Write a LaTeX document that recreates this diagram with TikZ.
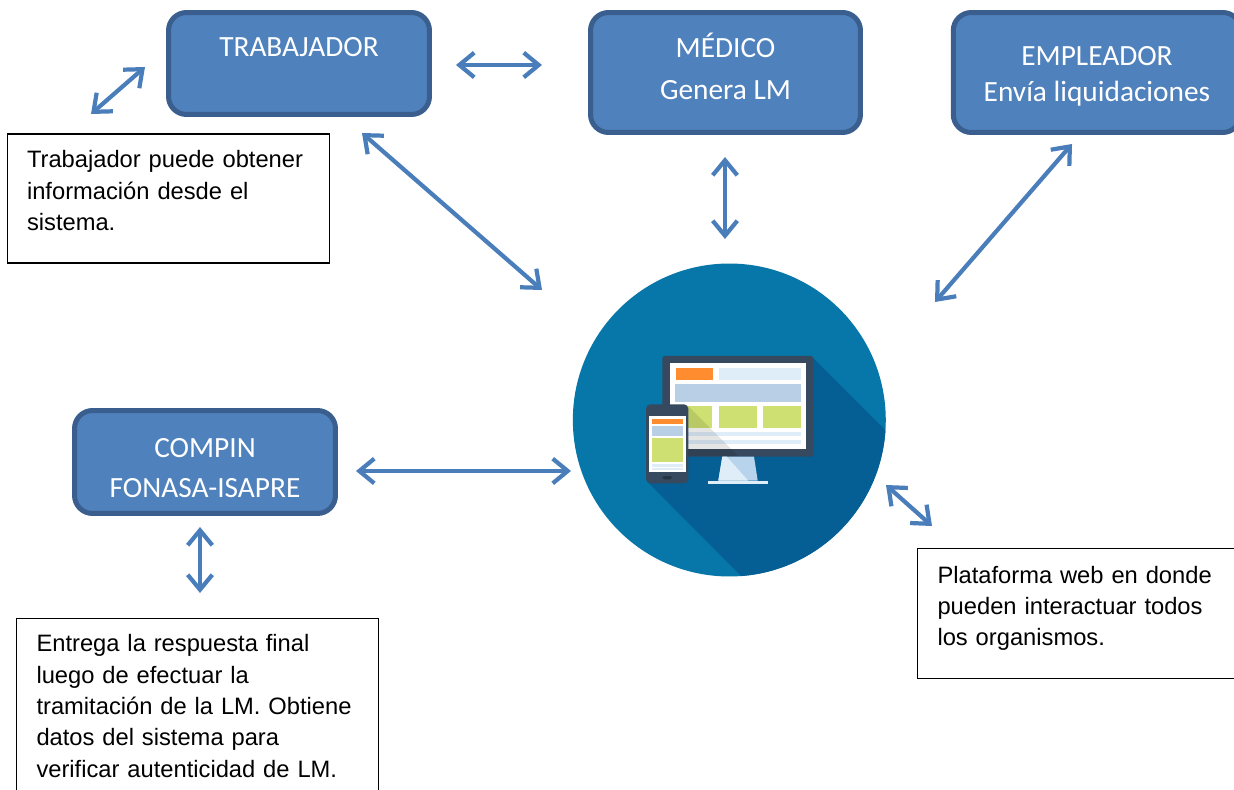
\documentclass[tikz,border=0pt]{standalone}
\usepackage{fontspec}
\setmainfont{Liberation Sans}
\newfontfamily\boxfont{Carlito}
\usetikzlibrary{arrows.meta}
\definecolor{lmblue}{HTML}{4F81BD}
\definecolor{lmborder}{HTML}{3A5F8E}
\definecolor{lmarrow}{HTML}{4A7EBB}
\definecolor{lmcircle}{HTML}{0776A8}
\definecolor{lmshadow}{HTML}{055E94}
\definecolor{lmdark}{HTML}{36495E}
\definecolor{lmorange}{HTML}{FF8C2E}
\definecolor{lmpale}{HTML}{DFEDF9}
\definecolor{lmsteel}{HTML}{B9CFE5}
\definecolor{lmstand}{HTML}{B7D4EC}
\definecolor{lmgreen}{HTML}{CFE072}
\tikzset{
  actorbox/.style={draw=lmborder, fill=lmblue, line width=0.1cm, rounded corners=0.36cm,
    text=white, align=center, font=\boxfont\fontsize{16.7}{18}\selectfont},
  infobox/.style={draw=black, line width=0.6pt, fill=white, align=left, inner xsep=0.4cm,
    font=\fontsize{13.5}{17.9}\selectfont},
  dblarrow/.style={draw=lmarrow, line width=2.4pt,
    {Straight Barb[length=8.5pt,width=14pt]}-{Straight Barb[length=8.5pt,width=14pt]}}
}
\begin{document}
\begin{tikzpicture}[x=0.02cm,y=-0.02cm]
\path[use as bounding box, clip] (0,0) rectangle (1234,790);
\fill[white] (0,0) rectangle (1234,790);

% Actors
\node[actorbox, minimum width=5.22cm, minimum height=2.04cm] (trabajador) at (299,63.5) {TRABAJADOR\\[0.7pt]~};
\node[actorbox, minimum width=5.4cm, minimum height=2.4cm, text depth=7pt] (medico) at (725.5,72.5) {MÉDICO\\[6.3pt]Genera LM};
\node[actorbox, minimum width=5.75cm, minimum height=2.4cm] (empleador) at (1097,72.5) {\rule{0pt}{15pt}EMPLEADOR\\[2.4pt]Envía liquidaciones};
\node[actorbox, minimum width=5.22cm, minimum height=2.06cm] (compin) at (205,462) {\rule{0pt}{17.7pt}COMPIN\\[4.7pt]FONASA-ISAPRE};

% Info boxes
\node[infobox, text width=5.66cm, minimum width=6.46cm, minimum height=2.58cm, text depth=44.5pt] (trabinfo) at (168.5,198.5)
  {Trabajador puede obtener\\información desde el\\sistema.};
\node[infobox, text width=6.44cm, minimum width=7.24cm, minimum height=3.5cm, anchor=north west, inner xsep=0.38cm] (compininfo) at (16,618)
  {Entrega la respuesta final\\luego de efectuar la\\tramitación de la LM. Obtiene\\datos del sistema para\\verificar autenticidad de LM.};
\node[infobox, text width=6.2cm, minimum width=7cm, minimum height=2.6cm, anchor=north west, text depth=44.5pt] (platinfo) at (917,548)
  {Plataforma web en donde\\pueden interactuar todos\\los organismos.};

% Platform circle
\begin{scope}
\node[circle, fill=lmcircle, minimum size=6.26cm, inner sep=0pt] (plataforma) at (729.3,420) {};
\clip (729.3,420) circle (3.13cm);
\fill[lmshadow] (813.3,358.3) -- (905,450) -- (905,600) -- (765,600) -- (647.3,481.7) -- cycle;
\end{scope}

% Monitor
\fill[lmdark, rounded corners=1.5pt] (662.3,356) rectangle (813.3,456.7);
\fill[white] (670,363.3) rectangle (806,449);
\fill[lmorange] (675.7,368.3) rectangle (713.3,380);
\fill[lmpale] (719,368.3) rectangle (801,380);
\fill[lmsteel] (675,384.3) rectangle (801,402);
\foreach \xa/\xb in {675/712.3,719/756.7,763.3/801} {
    \fill[lmgreen] (\xa,406) rectangle (\xb,427.7);
}
\fill[lmpale] (675,432) rectangle (801,436);
\fill[lmpale] (675,440.3) rectangle (801,444);
\fill[black, opacity=0.1] (688,406) -- (738,456) -- (688,456) -- cycle;

% Stand
\fill[lmstand] (722.3,456.7) -- (754,456.7) -- (757.7,480.7) -- (718.3,480.7) -- cycle;
\fill[lmpale] (722.3,456.7) -- (726.7,456.7) -- (748.3,480.7) -- (718.3,480.7) -- cycle;
\fill[lmpale] (707.7,480.7) rectangle (768,484);

% Phone
\fill[lmdark, rounded corners=2.5pt] (646,404.3) rectangle (688.3,483.3);
\fill[white] (648.7,416) rectangle (685.7,471.7);
\fill[lmorange] (651.7,419.3) rectangle (682.7,424);
\fill[lmsteel] (651.7,426) rectangle (682.7,435.7);
\fill[lmgreen] (651.7,437.7) rectangle (682.7,462);
\fill[lmpale] (651.7,464.3) rectangle (682.7,466.7);
\fill[lmpale] (651.7,468.3) rectangle (682.7,470);
\fill[black!30!lmdark, rounded corners=1pt] (662.3,476) rectangle (672,479.3);

% Arrow ends
\coordinate (trabfree) at (91,114);
\coordinate (trabnear) at (145,67);
\coordinate (trabright) at (456,65);
\coordinate (medleft) at (542,65);
\coordinate (trabdiag) at (362,133);
\coordinate (platdiag) at (542,290);
\coordinate (medlow) at (725,157);
\coordinate (plattop) at (725,239);
\coordinate (emplow) at (1072,144);
\coordinate (platright) at (935,302);
\coordinate (compright) at (356,471);
\coordinate (platleft) at (571,471);
\coordinate (platlow) at (886,485);
\coordinate (platfree) at (932,526);
\coordinate (complow) at (200,527);
\coordinate (compfree) at (200,593);

% Arrows
\draw[dblarrow] (trabfree) -- (trabnear);
\draw[dblarrow] (trabright) -- (medleft);
\draw[dblarrow] (trabdiag) -- (platdiag);
\draw[dblarrow] (medlow) -- (plattop);
\draw[dblarrow] (emplow) -- (platright);
\draw[dblarrow] (compright) -- (platleft);
\draw[dblarrow] (platlow) -- (platfree);
\draw[dblarrow] (complow) -- (compfree);
\end{tikzpicture}
\end{document}
